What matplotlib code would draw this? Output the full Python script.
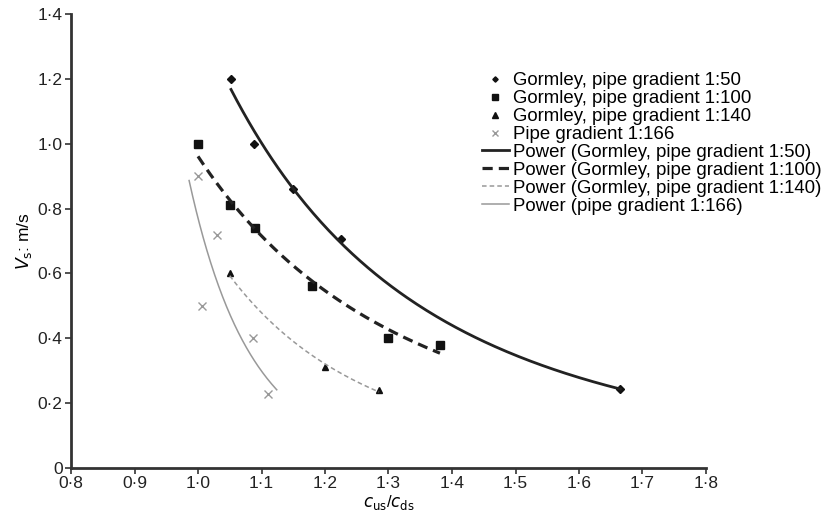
import numpy as np
import matplotlib
matplotlib.use('Agg')
import matplotlib.pyplot as plt

plt.rcParams['font.family'] = ['Liberation Sans', 'DejaVu Sans']

# data
x_50  = [1.052, 1.088, 1.150, 1.225, 1.665]
y_50  = [1.200, 1.000, 0.860, 0.705, 0.243]
x_100 = [1.000, 1.050, 1.090, 1.180, 1.299, 1.381]
y_100 = [1.000, 0.810, 0.740, 0.560, 0.400, 0.380]
x_140 = [1.050, 1.200, 1.285]
y_140 = [0.600, 0.310, 0.240]
x_166 = [1.000, 1.030, 1.006, 1.087, 1.110]
y_166 = [0.900, 0.720, 0.500, 0.400, 0.228]

# x span of the drawn trendlines
span_50  = [1.052, 1.665]
span_100 = [1.000, 1.381]
span_140 = [1.050, 1.285]
span_166 = [0.986, 1.124]

labels = ['Gormley, pipe gradient 1:50', 'Gormley, pipe gradient 1:100',
          'Gormley, pipe gradient 1:140', 'Pipe gradient 1:166']

xticks = np.arange(0.8, 1.81, 0.1)
yticks = np.arange(0.0, 1.41, 0.2)


def power_fit(x, y, span):
    b, lna = np.polyfit(np.log(x), np.log(y), 1)
    xs = np.linspace(span[0], span[1], 200)
    return xs, np.exp(lna) * xs**b


def dot(v):
    s = '{:.1f}'.format(v).replace('.', '\u00b7')
    return '0' if s == '0\u00b70' else s


fig = plt.figure(figsize=(8.27, 5.11), dpi=100)
ax = fig.add_axes([71/827, 1-468/511, 635/827, 454/511])

ax.plot(x_50, y_50, 'D', color='#111111', ms=3.6, ls='none', label=labels[0])
ax.plot(x_100, y_100, 's', color='#111111', ms=5.8, ls='none', label=labels[1])
ax.plot(x_140, y_140, '^', color='#111111', ms=5, ls='none', label=labels[2])
ax.plot(x_166, y_166, 'x', color='#999999', ms=6, mew=1.0, ls='none', label=labels[3])

xs, ys = power_fit(x_50, y_50, span_50)
ax.plot(xs, ys, '-', color='#222222', lw=2.0, label='Power (' + labels[0] + ')')
xs, ys = power_fit(x_100, y_100, span_100)
ax.plot(xs, ys, color='#222222', lw=2.3, ls=(0, (3.2, 1.9)), label='Power (' + labels[1] + ')')
xs, ys = power_fit(x_140, y_140, span_140)
ax.plot(xs, ys, color='#999999', lw=1.1, ls=(0, (3, 2)), label='Power (Gormley, pipe gradient 1:140)')
xs, ys = power_fit(x_166, y_166, span_166)
ax.plot(xs, ys, '-', color='#999999', lw=1.1, label='Power (pipe gradient 1:166)')

ax.set_xlim(0.8, 1.8)
ax.set_ylim(0, 1.4)
ax.set_xticks(xticks)
ax.set_xticklabels([dot(v) for v in xticks])
ax.set_yticks(yticks)
ax.set_yticklabels([dot(v) for v in yticks])

for s in ['top', 'right']:
    ax.spines[s].set_visible(False)
for s in ['left', 'bottom']:
    ax.spines[s].set_linewidth(2.0)
    ax.spines[s].set_color('#333333')
ax.tick_params(length=4, width=1.2, color='#333333', labelsize=12.5, labelcolor='#222222', pad=2)

ax.set_xlabel(r'$c_{\rm us}$/$c_{\rm ds}$', fontsize=12, labelpad=1)
ax.set_ylabel(r'$V_{\rm s}$: m/s', fontsize=12.5, labelpad=3)

leg = ax.legend(loc='upper left', bbox_to_anchor=(0.647, 0.872), frameon=False, fontsize=13.4,
                labelspacing=0.05, handlelength=1.45, handletextpad=0.25, borderpad=0,
                borderaxespad=0, markerscale=0.75)

fig.savefig('out.png', dpi=100)
